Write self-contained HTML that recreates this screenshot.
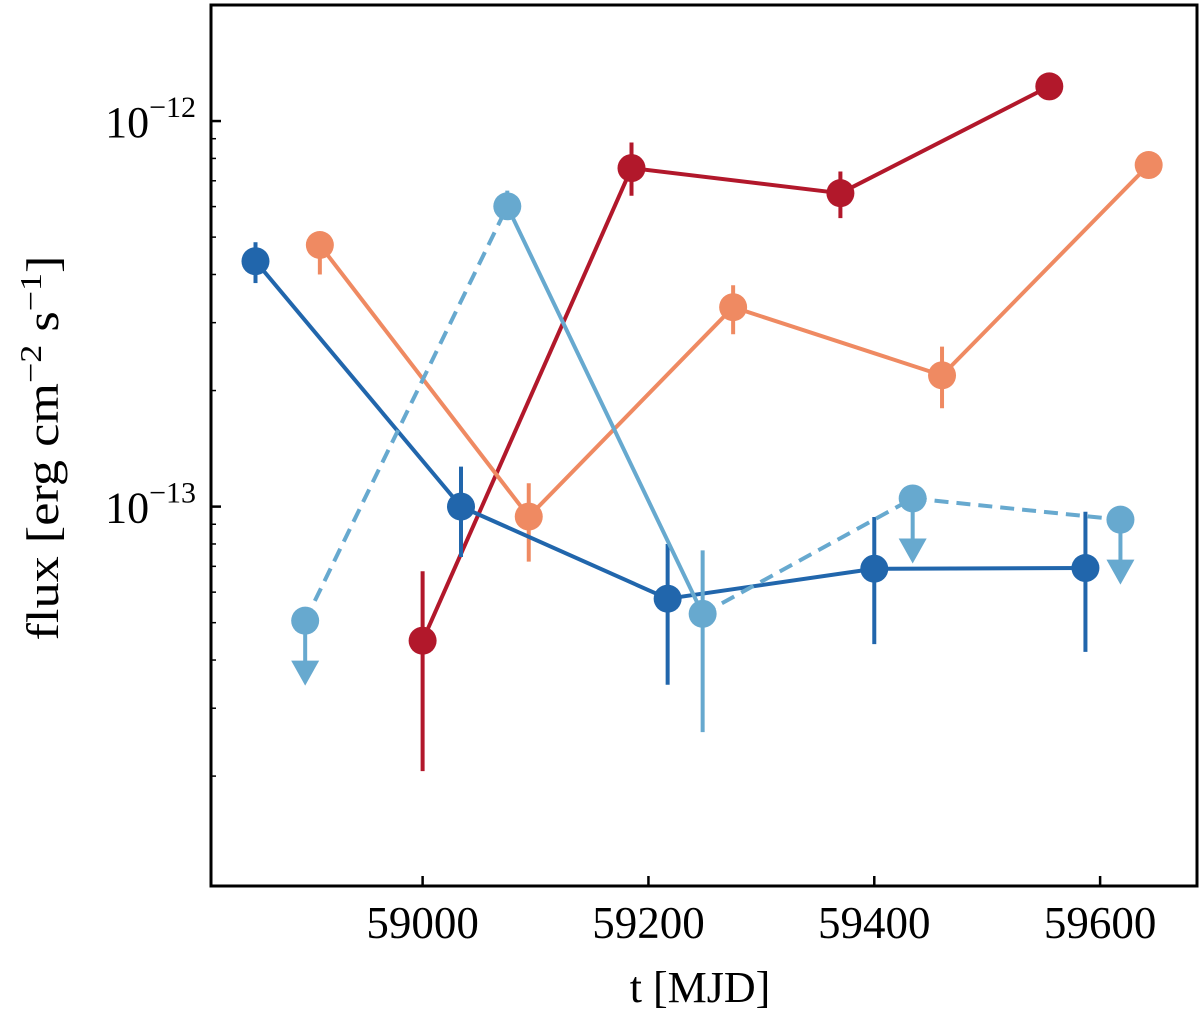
<!DOCTYPE html>
<html><head><meta charset="utf-8"><style>
html,body{margin:0;padding:0;background:#fff;}
svg{display:block;font-family:"Liberation Serif",serif;}
</style></head><body>
<svg id="chart" width="1200" height="1017" viewBox="0 0 1200 1017" xmlns="http://www.w3.org/2000/svg">
<g id="marks"></g>
<g id="axes"></g>
<text x="700" y="1002" font-size="44" text-anchor="middle">t [MJD]</text>
<text transform="translate(58,448) rotate(-90)" font-size="45" text-anchor="middle" textLength="385" lengthAdjust="spacingAndGlyphs">flux [erg cm<tspan dy="-17" font-size="31">−2</tspan><tspan dy="17"> s</tspan><tspan dy="-17" font-size="31">−1</tspan><tspan dy="17">]</tspan></text>
</svg>
<script>
// Data arrays
const xTicks = [59000, 59200, 59400, 59600];
const yMajor = [-12, -13];
// dark red series
const redT = [59000, 59185, 59370, 59555];
const redF = [4.49e-14, 7.55e-13, 6.5e-13, 1.23e-12];
const redLo = [2.06e-14, 6.4e-13, 5.6e-13, 1.23e-12];
const redHi = [6.8e-14, 8.8e-13, 7.4e-13, 1.23e-12];
// orange series
const orT = [58909, 59094, 59275, 59460, 59643];
const orF = [4.77e-13, 9.42e-14, 3.29e-13, 2.19e-13, 7.69e-13];
const orLo = [4.0e-13, 7.2e-14, 2.8e-13, 1.8e-13, 7.69e-13];
const orHi = [5.1e-13, 1.15e-13, 3.75e-13, 2.6e-13, 7.69e-13];
// dark blue series
const dbT = [58852, 59034, 59217, 59400, 59587];
const dbF = [4.33e-13, 1.0e-13, 5.77e-14, 6.9e-14, 6.93e-14];
const dbLo = [3.8e-13, 7.4e-14, 3.45e-14, 4.4e-14, 4.2e-14];
const dbHi = [4.85e-13, 1.27e-13, 8.0e-14, 9.4e-14, 9.7e-14];
// light blue series (ul = upper limit)
const lbT = [58896, 59075, 59248, 59434, 59618];
const lbF = [5.06e-14, 6.01e-13, 5.27e-14, 1.05e-13, 9.25e-14];
const lbLo = [5.06e-14, 5.6e-13, 2.6e-14, 1.05e-13, 9.25e-14];
const lbHi = [5.06e-14, 6.6e-13, 7.7e-14, 1.05e-13, 9.25e-14];
const lbUL = [1, 0, 0, 1, 1];

const L=211, R=1197, T=5, B=886;
const X0=58812.6, X1=59685.8, Y0=-13.984, Y1=-11.699;
const xs = t => L + (t - X0) / (X1 - X0) * (R - L);
const ys = f => B - (Math.log10(f) - Y0) / (Y1 - Y0) * (B - T);
const NS="http://www.w3.org/2000/svg";
const marks=document.getElementById('marks'), axes=document.getElementById('axes');
function el(tag, attrs, parent){const e=document.createElementNS(NS,tag);for(const k in attrs)e.setAttribute(k,attrs[k]);parent.appendChild(e);return e;}

function series(name,color,T_,F,Lo,Hi,UL){
  const g=el('g',{},marks);
  
  
  for(let i=0;i<T_.length-1;i++){
    const dashed = UL && (UL[i]||UL[i+1]);
    const ln=el('line',{x1:xs(T_[i]),y1:ys(F[i]),x2:xs(T_[i+1]),y2:ys(F[i+1]),stroke:color,'stroke-width':4,'stroke-dasharray':dashed?'14 8':'none'},g);
    
    
  }
  for(let i=0;i<T_.length;i++){
    const x=xs(T_[i]), y=ys(F[i]);
    if(UL && UL[i]){
      const a=el('line',{x1:x,y1:y,x2:x,y2:y+45,stroke:color,'stroke-width':4},g);
      
      
      const p=el('polygon',{points:`${x-14},${y+40} ${x+14},${y+40} ${x},${y+65}`,fill:color},g);
      
      
    } else if(Hi[i]!==Lo[i]){
      const e=el('line',{x1:x,y1:ys(Hi[i]),x2:x,y2:ys(Lo[i]),stroke:color,'stroke-width':4},g);
      
      
    }
    const c=el('circle',{cx:x,cy:y,r:14,fill:color},g);
    
    
  }
}
series('dark-red','#b2182b',redT,redF,redLo,redHi,null);
series('orange','#ef8a62',orT,orF,orLo,orHi,null);
series('dark-blue','#2166ac',dbT,dbF,dbLo,dbHi,null);
series('light-blue','#67a9cf',lbT,lbF,lbLo,lbHi,lbUL);

// axes frame
const fr=el('rect',{x:L,y:T,width:R-L,height:B-T,fill:'none',stroke:'#000','stroke-width':3},axes);


xTicks.forEach(t=>{
  const x=xs(t);
  const tk=el('line',{x1:x,y1:B,x2:x,y2:B-10,stroke:'#000','stroke-width':2.5},axes);
  
  
  const tx=el('text',{x:x,y:938,'font-size':45,'text-anchor':'middle'},axes);
  tx.textContent=t;
  
  
});
for(let d=-14; d<=-12; d++){
  for(let m=1;m<10;m++){
    const lv=d+Math.log10(m);
    if(lv<Y0||lv>Y1) continue;
    const y=B-(lv-Y0)/(Y1-Y0)*(B-T);
    const tk=el('line',{x1:L,y1:y,x2:L+(m===1?10:5),y2:y,stroke:'#000','stroke-width':m===1?2.5:1.5},axes);
    
    
  }
}
yMajor.forEach(p=>{
  const y=B-(p-Y0)/(Y1-Y0)*(B-T);
  const tx=el('text',{x:196,y:y+16,'font-size':44,'text-anchor':'end'},axes);
  tx.innerHTML='10<tspan dy="-20" font-size="30">−'+(-p)+'</tspan>';
  
  
});
</script>
</body></html>
